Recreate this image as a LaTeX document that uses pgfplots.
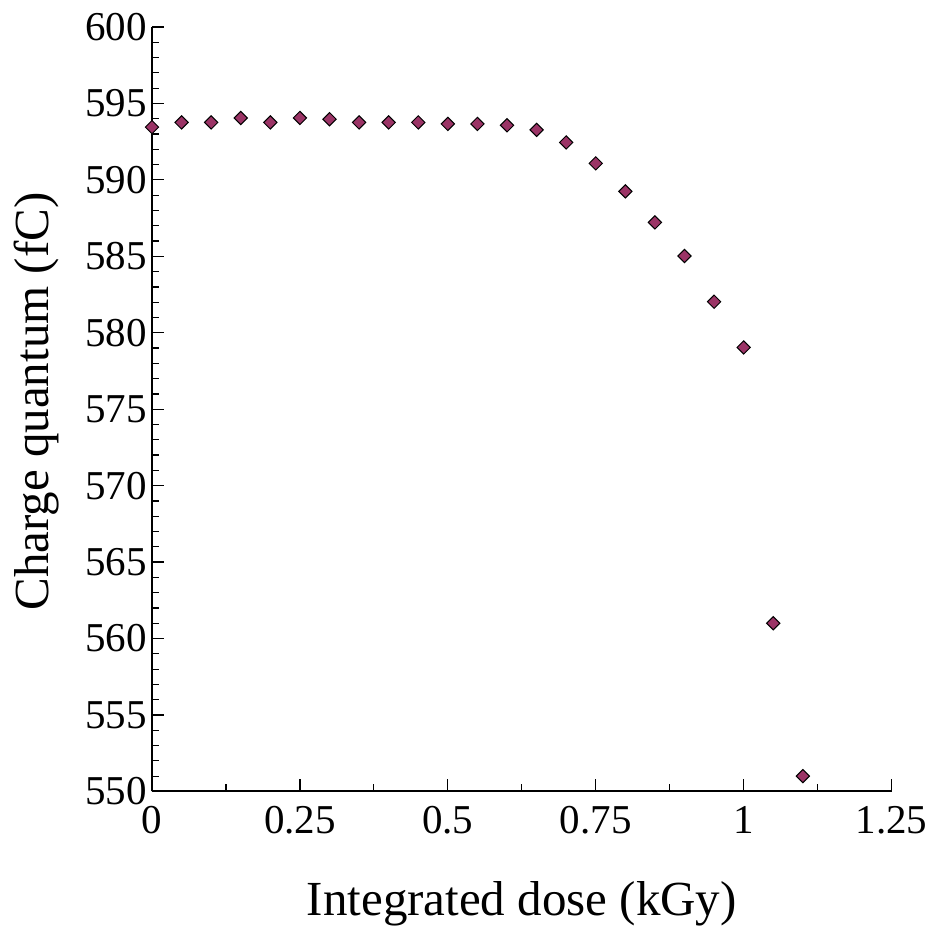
\documentclass[border=0pt]{standalone}
\usepackage{fontspec}
\setmainfont{Liberation Serif}
\usepackage{pgfplots}
\pgfplotsset{compat=1.18}
\definecolor{mkfill}{RGB}{155,52,102}
\begin{document}
\begin{tikzpicture}
\begin{axis}[
  scale only axis,
  width=369.8pt, height=382.2pt,
  xmin=0, xmax=1.25, ymin=550, ymax=600,
  axis lines=left,
  axis line style={-, line width=1pt},
  clip=false,
  xtick={0,0.25,0.5,0.75,1,1.25},
  xticklabels={0,0.25,0.5,0.75,1,1.25},
  minor xtick={0.125,0.375,0.625,0.875,1.125},
  ytick={550,555,...,600},
  minor ytick={551,552,553,554,556,557,558,559,561,562,563,564,566,567,568,569,571,572,573,574,576,577,578,579,581,582,583,584,586,587,588,589,591,592,593,594,596,597,598,599},
  tick align=inside,
  major tick length=6pt,
  minor tick length=3.5pt,
  every tick/.style={black, line width=0.6pt},
  /pgf/number format/assume math mode=true,
  tick label style={font=\fontsize{20.5}{24}\selectfont},
  xticklabel style={yshift=-4pt},
  yticklabel style={xshift=1pt},
  label style={font=\fontsize{24.5}{29}\selectfont},
  xlabel={Integrated dose (kGy)},
  ylabel={Charge quantum (fC)},
  x label style={at={(axis description cs:0.5,-0.1622)}, anchor=base},
  y label style={at={(axis description cs:-0.1406,0.51)}, anchor=base, rotate=0},
]
\addplot[only marks, mark=square*, mark size=2.35pt,
  mark options={rotate=45, fill=mkfill, draw=black, line width=0.5pt}]
coordinates {
(0,593.45) (0.05,593.76) (0.1,593.76) (0.15,594.05) (0.2,593.76)
(0.25,594.05) (0.3,593.97) (0.35,593.76) (0.4,593.76) (0.45,593.76)
(0.5,593.66) (0.55,593.66) (0.6,593.57) (0.65,593.27) (0.7,592.45)
(0.75,591.08) (0.8,589.25) (0.85,587.22) (0.9,585.02) (0.95,582.03)
(1.0,579.04) (1.05,561.0) (1.1,551.0)
};
\end{axis}
\pgfresetboundingbox
\path[use as bounding box] (-76pt,-67.3pt) rectangle (392pt,395.7pt);
\end{tikzpicture}
\end{document}
